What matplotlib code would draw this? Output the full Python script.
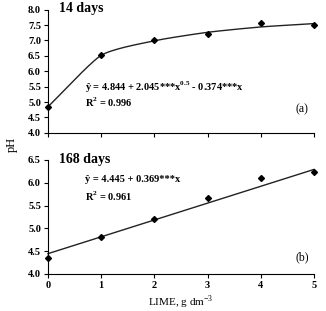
import numpy as np
import matplotlib
matplotlib.use("Agg")
import matplotlib.pyplot as plt

plt.rcParams["font.family"] = ["Liberation Serif", "DejaVu Serif"]
plt.rcParams["mathtext.fontset"] = "custom"
plt.rcParams["mathtext.rm"] = "Liberation Serif"
plt.rcParams["mathtext.bf"] = "Liberation Serif:bold"

lime = [0, 1, 2, 3, 4, 5]
ph_14 = [4.83, 6.52, 7.02, 7.2, 7.56, 7.5]
ph_168 = [4.36, 4.80, 5.20, 5.66, 6.10, 6.23]

coef_14 = (4.844, 2.045, -0.374)
coef_168 = (4.445, 0.369)


def smooth(xs, ys, s=0.6, n=30):
    # hermite spline through the points, tangents damped by s
    pts = np.column_stack([xs, ys]).astype(float)
    m = np.zeros_like(pts)
    m[1:-1] = s * (pts[2:] - pts[:-2]) / 2
    m[0] = s * (pts[1] - pts[0])
    m[-1] = s * (pts[-1] - pts[-2])
    t = np.linspace(0, 1, n)[:, None]
    h00 = 2 * t ** 3 - 3 * t ** 2 + 1
    h10 = t ** 3 - 2 * t ** 2 + t
    h01 = -2 * t ** 3 + 3 * t ** 2
    h11 = t ** 3 - t ** 2
    segs = [h00 * pts[i] + h10 * m[i] + h01 * pts[i + 1] + h11 * m[i + 1]
            for i in range(len(pts) - 1)]
    out = np.vstack(segs)
    return out[:, 0], out[:, 1]


x = np.array(lime, float)
fit_14 = coef_14[0] + coef_14[1] * np.sqrt(x) + coef_14[2] * x
fit_168 = coef_168[0] + coef_168[1] * x

fig = plt.figure(figsize=(3.26, 3.11), dpi=100)
ax1 = fig.add_axes([0.147, 0.573, 0.816, 0.396])
ax2 = fig.add_axes([0.147, 0.119, 0.816, 0.367])

tick_font = dict(fontsize=7.5, fontweight="bold")

sx, sy = smooth(lime, fit_14)
ax1.plot(sx, sy, color="#222222", lw=1)
ax1.plot(lime, ph_14, "D", color="black", ms=3)
ax1.set_xlim(0, 5)
ax1.set_ylim(4.0, 8.0)
ax1.set_yticks(np.arange(4.0, 8.01, 0.5))
ax1.set_yticklabels([f"{v:.1f}" for v in np.arange(4.0, 8.01, 0.5)], **tick_font)
ax1.set_xticks(lime)
ax1.set_xticklabels([])
ax1.text(0.04, 1.01, "14 days", transform=ax1.transAxes, fontsize=10,
         fontweight="bold", va="center")
ax1.text(0.14, 0.37, "ŷ = 4.844 + 2.045***x$^{\\mathbf{0.5}}$ - 0.374***x",
         transform=ax1.transAxes, fontsize=7.5, fontweight="bold", va="center")
ax1.text(0.14, 0.245, "R$^{\\mathbf{2}}$ = 0.996", transform=ax1.transAxes,
         fontsize=7.5, fontweight="bold", va="center")
ax1.text(0.98, 0.17, "(a)", transform=ax1.transAxes, fontsize=8.5, ha="right")

ax2.plot(x, fit_168, color="#222222", lw=1)
ax2.plot(lime, ph_168, "D", color="black", ms=3)
ax2.set_xlim(0, 5)
ax2.set_ylim(4.0, 6.5)
ax2.set_yticks(np.arange(4.0, 6.51, 0.5))
ax2.set_yticklabels([f"{v:.1f}" for v in np.arange(4.0, 6.51, 0.5)], **tick_font)
ax2.set_xticks(lime)
ax2.set_xticklabels([str(v) for v in lime], **tick_font)
ax2.text(0.04, 1.0, "168 days", transform=ax2.transAxes, fontsize=10,
         fontweight="bold", va="center")
ax2.text(0.14, 0.825, "ŷ = 4.445 + 0.369***x", transform=ax2.transAxes,
         fontsize=7.5, fontweight="bold", va="center")
ax2.text(0.14, 0.68, "R$^{\\mathbf{2}}$ = 0.961", transform=ax2.transAxes,
         fontsize=7.5, fontweight="bold", va="center")
ax2.text(0.98, 0.12, "(b)", transform=ax2.transAxes, fontsize=8.5, ha="right")
ax2.set_xlabel("LIME, g dm$^{-3}$", fontsize=8, labelpad=3)

for ax in (ax1, ax2):
    ax.spines["top"].set_visible(False)
    ax.spines["right"].set_visible(False)
    ax.tick_params(length=3, width=0.8, pad=2)
    for ln in ax.lines:
        ln.set_clip_on(False)

fig.text(0.035, 0.535, "pH", rotation=90, fontsize=9, va="center", ha="center")

fig.savefig("out.png", dpi=100)
